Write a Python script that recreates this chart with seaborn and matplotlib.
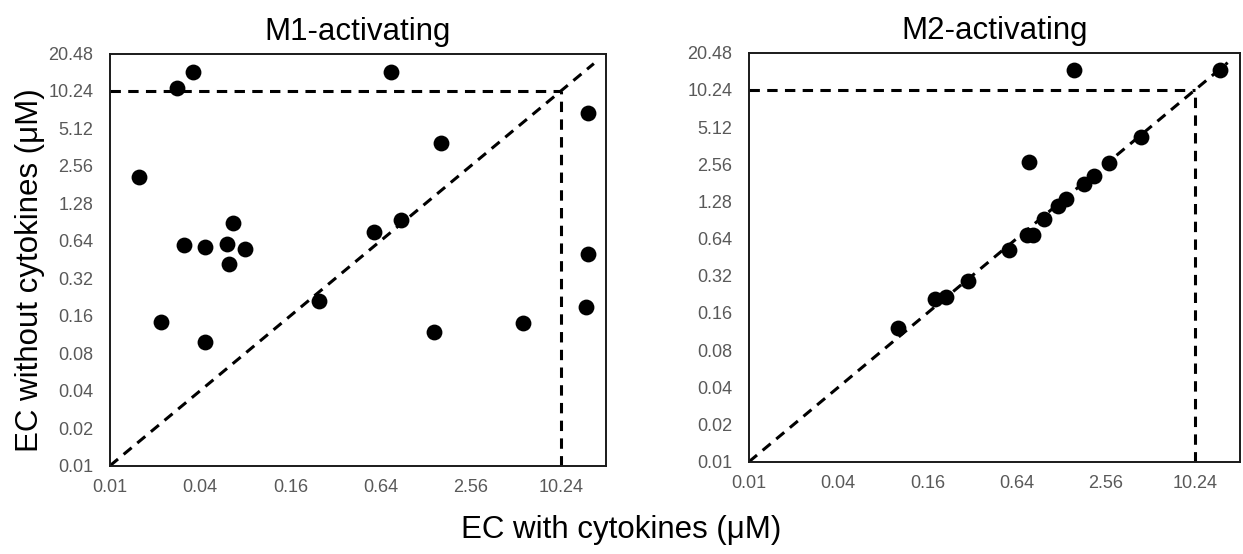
import matplotlib
matplotlib.use("Agg")
import matplotlib.pyplot as plt
import seaborn as sns
import pandas as pd

# ---- data ----
m1_with = [0.036, 0.028, 0.75, 15.6, 1.62, 0.0155, 0.066, 0.031, 0.043, 0.060,
           0.080, 0.062, 0.58, 0.88, 15.6, 0.022, 0.043, 0.25, 1.45, 5.7, 15.0]
m1_without = [14.6, 10.9, 14.6, 6.8, 3.9, 2.1, 0.89, 0.59, 0.57, 0.60,
              0.55, 0.42, 0.75, 0.94, 0.50, 0.143, 0.098, 0.21, 0.119, 0.14, 0.19]

m2_with = [1.57, 15.1, 4.4, 0.78, 2.68, 2.12, 1.81, 1.38, 1.22, 0.98,
           0.83, 0.75, 0.565, 0.30, 0.213, 0.179, 0.101]
m2_without = [14.8, 14.9, 4.26, 2.68, 2.61, 2.07, 1.78, 1.33, 1.18, 0.93,
              0.69, 0.685, 0.52, 0.29, 0.217, 0.206, 0.12]

titles = ["M1-activating", "M2-activating"]
y_ticks = [0.01, 0.02, 0.04, 0.08, 0.16, 0.32, 0.64, 1.28, 2.56, 5.12, 10.24, 20.48]
y_tick_labels = ["0.01", "0.02", "0.04", "0.08", "0.16", "0.32", "0.64",
                 "1.28", "2.56", "5.12", "10.24", "20.48"]
x_ticks = [0.01, 0.04, 0.16, 0.64, 2.56, 10.24]
x_tick_labels = ["0.01", "0.04", "0.16", "0.64", "2.56", "10.24"]
cutoff = 10.24
axis_min, axis_max = 0.01, 20.48
diag_end = 17.0

sns.set_style("white")
plt.rcParams["font.family"] = ["Liberation Sans", "DejaVu Sans"]
plt.rcParams["text.color"] = "black"

fig = plt.figure(figsize=(12.43, 5.54), dpi=100)
ax1 = fig.add_axes([0.0885, 0.1594, 0.399, 0.744])
ax2 = fig.add_axes([0.6026, 0.1666, 0.3947, 0.7383])

tick_color = "#595959"
spine_color = "#1a1a1a"

for ax, xs, ys, title in [(ax1, m1_with, m1_without, titles[0]),
                          (ax2, m2_with, m2_without, titles[1])]:
    df = pd.DataFrame({"with": xs, "without": ys})
    ax.set_xscale("log", base=2)
    ax.set_yscale("log", base=2)
    ls = (0, (3.4, 2.4))
    ax.plot([axis_min, cutoff], [cutoff, cutoff], color="black", lw=2.2, ls=ls, zorder=2)
    ax.plot([cutoff, cutoff], [axis_min, cutoff], color="black", lw=2.2, ls=ls, zorder=2)
    ax.plot([axis_min, diag_end], [axis_min, diag_end], color="black", lw=2.2, ls=ls, zorder=2)
    sns.scatterplot(data=df, x="with", y="without", ax=ax, color="black",
                    s=130, edgecolor="black", linewidth=0, zorder=3, legend=False)
    ax.set_xlim(axis_min, axis_max)
    ax.set_ylim(axis_min, axis_max)
    ax.set_xticks(x_ticks)
    ax.set_xticklabels(x_tick_labels)
    ax.set_yticks(y_ticks)
    ax.set_yticklabels(y_tick_labels)
    ax.minorticks_off()
    ax.tick_params(axis="x", direction="inout", length=11, width=1.2,
                   color=spine_color, labelcolor=tick_color, labelsize=13, pad=4)
    ax.tick_params(axis="y", direction="out", length=5, width=1.2,
                   color=spine_color, labelcolor=tick_color, labelsize=13, pad=7)
    for sp in ax.spines.values():
        sp.set_visible(True)
        sp.set_color(spine_color)
        sp.set_linewidth(1.4)
    ax.set_xlabel("")
    ax.set_ylabel("")
    ax.set_title(title, fontsize=22.5, pad=10, color="black")

fig.text(0.5, 0.043, "EC with cytokines (\u03bcM)", ha="center", va="center",
         fontsize=22.5, color="black")
fig.text(0.024, 0.513, "EC without cytokines (\u03bcM)", ha="center", va="center",
         rotation=90, fontsize=22.5, color="black")

fig.savefig("out.png", dpi=100)
